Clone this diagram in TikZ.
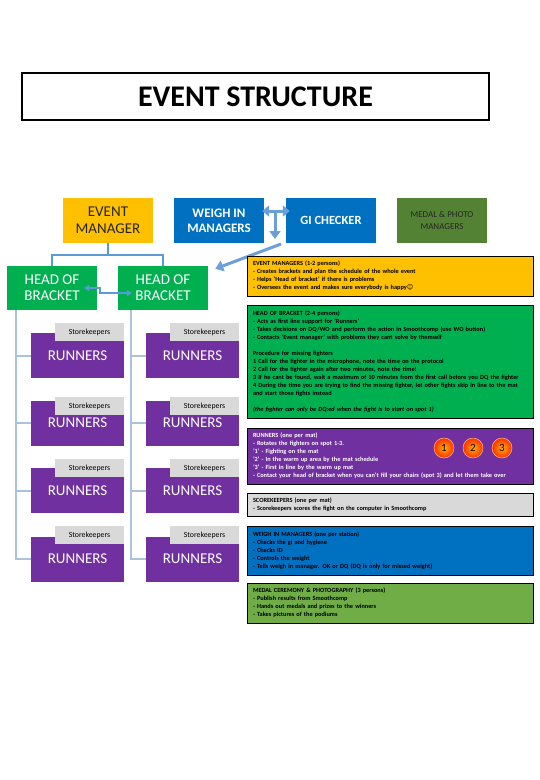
\documentclass[tikz,border=0pt]{standalone}
\usepackage{fontspec}
\setmainfont{Carlito}
\newfontfamily\djv{DejaVu Sans}
\usetikzlibrary{arrows.meta,shadings}
\definecolor{cOrange}{HTML}{FFC000}
\definecolor{cBlue}{HTML}{0070C0}
\definecolor{cDkGreen}{HTML}{548235}
\definecolor{cGreen}{HTML}{00B050}
\definecolor{cPurple}{HTML}{7030A0}
\definecolor{cGray}{HTML}{D9D9D9}
\definecolor{cLtGreen}{HTML}{70AD47}
\definecolor{cArrow}{HTML}{6A9FD8}
\definecolor{cTree}{HTML}{5B9BD5}
\definecolor{cTreeLt}{HTML}{A9C2DD}
\definecolor{cDark}{HTML}{262626}
\begin{document}
\begin{tikzpicture}[x=1pt,y=-1pt,
  hdr/.style={inner sep=0pt, align=center, minimum width=90pt, minimum height=45pt},
  runbox/.style={fill=cPurple, text=white, inner sep=0pt, minimum width=93pt, minimum height=45pt, font=\fontsize{15}{17}\selectfont},
  tabbox/.style={fill=cGray, text=black, inner sep=0pt, minimum width=69pt, minimum height=18pt, font=\fontsize{7.8}{9}\selectfont},
  infobox/.style={draw=black, line width=1pt, align=left, inner xsep=6pt, inner ysep=2pt, text width=274pt, font=\bfseries\fontsize{6.3}{8}\selectfont},
  bigarrow/.style={draw=cArrow, line width=3pt},
  tree/.style={draw=cTree, line width=2pt},
  treelt/.style={draw=cTreeLt, line width=2pt},
  ball/.style={circle, minimum size=20pt, inner sep=0pt, shading=radial, inner color=orange!60!yellow, outer color=red!65!orange, draw=orange!50!white, line width=0.5pt, font=\fontsize{11}{11}\selectfont}
]
\useasboundingbox (0,0) rectangle (540,780);
\fill[white] (0,0) rectangle (540,780);

% title
\node[draw=black, line width=1.5pt, minimum width=467pt, minimum height=47pt, inner sep=0pt,
      font=\bfseries\fontsize{30}{32}\selectfont] (title) at (255.5,96.5) {EVENT STRUCTURE};

% top row
\node[hdr, fill=cOrange, text=cDark, font=\fontsize{15}{17}\selectfont] (em) at (108,220.5) {EVENT\\MANAGER};
\node[hdr, fill=cBlue, text=white, font=\bfseries\fontsize{13}{15}\selectfont] (wi) at (219,220.5) {WEIGH IN\\MANAGERS};
\node[hdr, fill=cBlue, text=white, font=\bfseries\fontsize{12.5}{14}\selectfont] (gi) at (331,220.5) {GI CHECKER};
\node[hdr, fill=cDkGreen, text=cDark, font=\fontsize{9}{12}\selectfont] (mp) at (442,220.5) {MEDAL \& PHOTO\\MANAGERS};

% heads of bracket
\node[hdr, fill=cGreen, text=white, minimum height=44pt, font=\fontsize{15}{16}\selectfont] (hob1) at (52,288) {HEAD OF\\BRACKET};
\node[hdr, fill=cGreen, text=white, minimum height=44pt, font=\fontsize{15}{16}\selectfont] (hob2) at (163,288) {HEAD OF\\BRACKET};

% arrows between weigh-in and gi checker
\draw[bigarrow, {Triangle[width=11pt,length=7pt]}-{Triangle[width=11pt,length=7pt]}]
  ([xshift=-2pt,yshift=9.5pt]wi.east) -- ([xshift=4pt,yshift=9.5pt]gi.west);
\coordinate (junc) at (275,211);
\coordinate (dtip) at (275,239);
\draw[bigarrow, -{Triangle[width=11pt,length=8pt]}] (junc) -- (dtip);
\coordinate (dstart) at (281,244);
\draw[bigarrow, -{Triangle[width=11pt,length=8pt]}] (dstart) -- ([xshift=7pt,yshift=-3pt]hob2.north east);

% event manager tree
\coordinate (emj) at (108,255);
\draw[tree] (em.south) -- (emj);
\draw[tree] (hob1.north) |- (emj) -| (hob2.north);

% hob double arrow
\draw[draw=cTree, line width=1.5pt, {Triangle[width=6pt,length=5pt]}-{Triangle[width=6pt,length=5pt]}]
  ([xshift=-13pt]hob1.east) -- ++(16,0) |- ([xshift=14pt,yshift=-5pt]hob2.west);

% runners
\node[runbox] (r1a) at (77.5,355.5) {RUNNERS};
\node[runbox] (r2a) at (77.5,423) {RUNNERS};
\node[runbox] (r3a) at (77.5,490.5) {RUNNERS};
\node[runbox] (r4a) at (77.5,559) {RUNNERS};
\node[runbox] (r1b) at (192.5,355.5) {RUNNERS};
\node[runbox] (r2b) at (192.5,423) {RUNNERS};
\node[runbox] (r3b) at (192.5,490.5) {RUNNERS};
\node[runbox] (r4b) at (192.5,559) {RUNNERS};

\node[tabbox] (s1a) at (89.5,332) {Storekeepers};
\node[tabbox] (s2a) at (89.5,406) {Storekeepers};
\node[tabbox] (s3a) at (89.5,468) {Storekeepers};
\node[tabbox] (s4a) at (89.5,535) {Storekeepers};
\node[tabbox] (s1b) at (204.5,332) {Storekeepers};
\node[tabbox] (s2b) at (204.5,406) {Storekeepers};
\node[tabbox] (s3b) at (204.5,468) {Storekeepers};
\node[tabbox] (s4b) at (204.5,535) {Storekeepers};

% trees from hob
\draw[treelt] ([xshift=-36pt]hob1.south) |- (r4a.west);
\draw[treelt] (r1a.west) -- ++(-15,0);
\draw[treelt] (r2a.west) -- ++(-15,0);
\draw[treelt] (r3a.west) -- ++(-15,0);
\draw[treelt] ([xshift=-32pt]hob2.south) |- (r4b.west);
\draw[treelt] (r1b.west) -- ++(-15,0);
\draw[treelt] (r2b.west) -- ++(-15,0);
\draw[treelt] (r3b.west) -- ++(-15,0);

% info boxes
\node[infobox, fill=cOrange, text=black, minimum height=40pt] (iem) at (390,276) {%
EVENT MANAGERS (1-2 persons)\\
- Creates brackets and plan the schedule of the whole event\\
- Helps 'Head of bracket' if there is problems\\
- Oversees the event and makes sure everybody is happy{\djv ☺}};

\node[infobox, fill=cGreen, text=black, minimum height=113pt] (ihob) at (390,361.5) {%
HEAD OF BRACKET (2-4 persons)\\
- Acts as first line support for 'Runners'\\
- Takes decisions on DQ/WO and perform the action in Smoothcomp (use WO button)\\
- Contacts 'Event manager' with problems they cant solve by themself\\[8pt]
Procedure for missing fighters\\
1 Call for the fighter in the microphone, note the time on the protocol\\
2 Call for the fighter again after two minutes, note the time!\\
3 If he cant be found, wait a maximum of 10 minutes from the first call before you DQ the fighter\\
4 During the time you are trying to find the missing fighter, let other fights skip in line to the mat\\
and start those fights instead\\[8pt]
{\itshape (the fighter can only be DQ:ed when the fight is to start on spot 1)}};

\node[infobox, fill=cPurple, text=white, minimum height=56pt] (irun) at (390,456) {%
RUNNERS (one per mat)\\
- Rotates the fighters on spot 1-3.\\
'1' - Fighting on the mat\\
'2' - In the warm up area by the mat schedule\\
'3' - First in line by the warm up mat\\
- Contact your head of bracket when you can't fill your chairs (spot 3) and let them take over};

\node[ball] (c1) at (444,448) {1};
\node[ball] (c2) at (473,448) {2};
\node[ball] (c3) at (502,448) {3};

\node[infobox, fill=cGray, text=black, minimum height=23pt] (isk) at (390,504.5) {%
SCOREKEEPERS (one per mat)\\
- Scorekeepers scores the fight on the computer in Smoothcomp};

\node[infobox, fill=cBlue, text=black, minimum height=49pt] (iwi) at (390,550.5) {%
WEIGH IN MANAGERS (one per station)\\
- Checks the gi and hygiene\\
- Checks ID\\
- Controls the weight\\
- Tells weigh in manager. OK or DQ (DQ is only for missed weight)};

\node[infobox, fill=cLtGreen, text=black, minimum height=40pt] (imp) at (390,603) {%
MEDAL CEREMONY \& PHOTOGRAPHY (3 persons)\\
- Publish results from Smoothcomp\\
- Hands out medals and prizes to the winners\\
- Takes pictures of the podiums};
\end{tikzpicture}
\end{document}
